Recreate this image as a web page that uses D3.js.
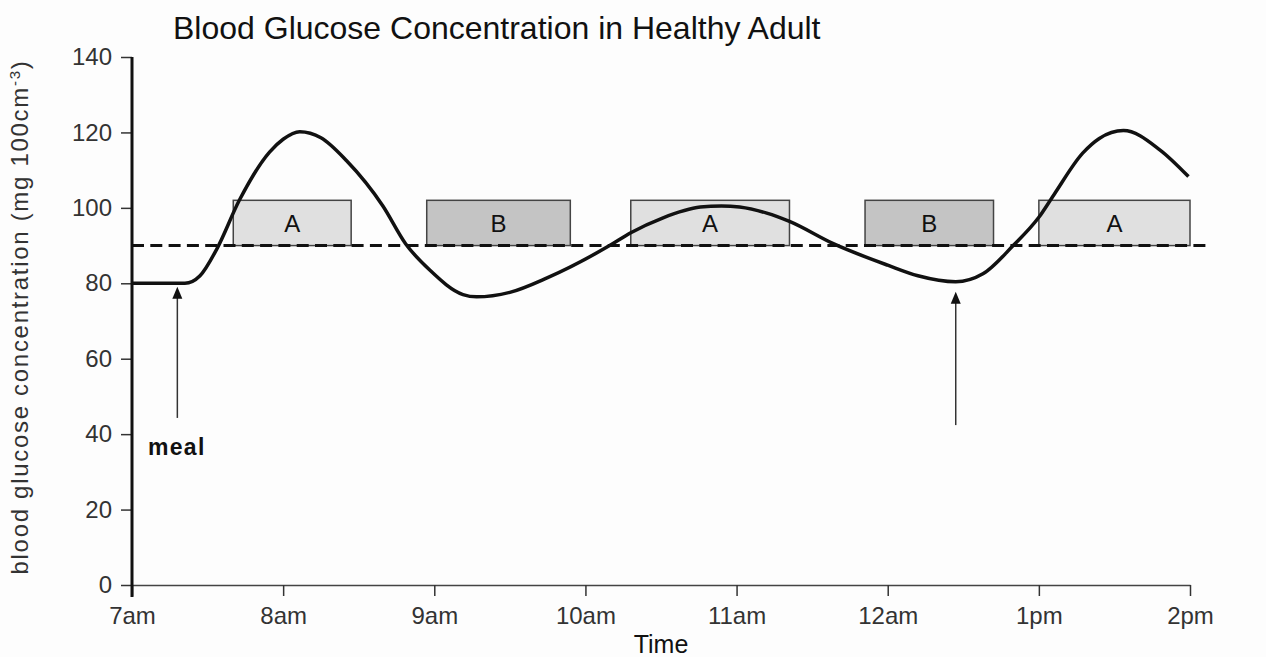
<!DOCTYPE html>
<html>
<head>
<meta charset="utf-8">
<script src="https://cdn.jsdelivr.net/npm/d3@7"></script>
<style>
  body { margin: 0; background: #fdfdfd; }
  svg { display: block; }
  text { font-family: "Liberation Sans", Arial, sans-serif; }
</style>
</head>
<body>
<svg id="chart"></svg>
<script>
// time in hours (7 = 7am, 14 = 2pm) and glucose
const hours   = [7.0, 7.35, 7.45, 7.56, 7.71, 7.91, 8.0, 8.11, 8.25, 8.42, 8.66, 8.81, 8.97, 9.19, 9.28, 9.5, 9.75, 10.16, 10.3, 10.51, 10.76, 10.9, 11.02, 11.2, 11.35, 11.64, 12.0, 12.2, 12.45, 12.63, 12.83, 13.0, 13.1, 13.29, 13.4, 13.56, 13.8, 13.99];
const glucose = [80, 80, 82, 89, 102, 114.8, 118.2, 120.2, 118.6, 112.5, 100.5, 90.5, 83.5, 77, 76.4, 77.6, 81.5, 90, 93.4, 97.3, 100.2, 100.5, 100.2, 98.6, 96.4, 90.5, 84.8, 82, 80.4, 82.5, 90, 97.5, 103.5, 114.5, 118.4, 120.5, 115.4, 108.3];

const xTicks = [7, 8, 9, 10, 11, 12, 13, 14];
const xTickLabels = ['7am', '8am', '9am', '10am', '11am', '12am', '1pm', '2pm'];
const yTicks = [0, 20, 40, 60, 80, 100, 120, 140];

const threshold = 90;
const boxStart  = [7.67, 8.95, 10.3, 11.85, 13.0];
const boxEnd    = [8.45, 9.9, 11.35, 12.7, 14.0];
const boxLabels = ['A', 'B', 'A', 'B', 'A'];
const boxTop = 102;

const arrowAt   = [7.3, 12.45];
const arrowFrom = [44.3, 42.4];
const arrowTo   = [79.6, 78.3];

const width = 1266, height = 657;
const margin = { top: 57, right: 76, bottom: 72, left: 132 };
const font = '"Liberation Sans", Arial, sans-serif';

const svg = d3.select('#chart').attr('width', width).attr('height', height);
svg.append('rect').attr('width', width).attr('height', height).attr('fill', '#fdfdfd');

const x = d3.scaleLinear().domain([7, 14]).range([margin.left, width - margin.right]);
const y = d3.scaleLinear().domain([0, 140]).range([height - margin.bottom, margin.top]);

// boxes A / B
const boxes = svg.append('g');
boxStart.forEach((s, i) => {
  boxes.append('rect')
    .attr('x', x(s)).attr('y', y(boxTop))
    .attr('width', x(boxEnd[i]) - x(s)).attr('height', y(threshold) - y(boxTop))
    .attr('fill', boxLabels[i] === 'A' ? '#e0e0e0' : '#c4c4c4')
    .attr('stroke', '#444').attr('stroke-width', 1.5);
  boxes.append('text')
    .attr('x', (x(s) + x(boxEnd[i])) / 2).attr('y', (y(threshold) + y(boxTop)) / 2 + 9)
    .attr('text-anchor', 'middle').attr('font-size', 24).attr('fill', '#111')
    .text(boxLabels[i]);
});

// dashed normal level
svg.append('line')
  .attr('x1', x(7)).attr('x2', x(14) + 20)
  .attr('y1', y(threshold)).attr('y2', y(threshold))
  .attr('stroke', '#111').attr('stroke-width', 3)
  .attr('stroke-dasharray', '12,6.3');

// axes
const yAxis = svg.append('g').attr('transform', `translate(${margin.left},0)`)
  .call(d3.axisLeft(y).tickValues(yTicks).tickSize(11).tickPadding(9).tickSizeOuter(0));
yAxis.select('.domain').remove();
yAxis.selectAll('.tick line').attr('stroke', '#333').attr('stroke-width', 1.5);
yAxis.selectAll('.tick text').attr('font-size', 24).attr('fill', '#333').attr('font-family', font);

const xAxis = svg.append('g').attr('transform', `translate(0,${y(0)})`)
  .call(d3.axisBottom(x).tickValues(xTicks).tickFormat((d, i) => xTickLabels[i]).tickSize(11).tickPadding(11).tickSizeOuter(0));
xAxis.select('.domain').attr('stroke', '#444').attr('stroke-width', 1.5);
xAxis.selectAll('.tick line').attr('stroke', '#333').attr('stroke-width', 1.5);
xAxis.selectAll('.tick text').attr('font-size', 24).attr('fill', '#333').attr('font-family', font);

svg.append('line')
  .attr('x1', x(7)).attr('x2', x(7))
  .attr('y1', y(140)).attr('y2', y(0) + 12)
  .attr('stroke', '#111').attr('stroke-width', 3);

// glucose curve
const line = d3.line().x((d, i) => x(hours[i])).y(d => y(d)).curve(d3.curveMonotoneX);
svg.append('path').datum(glucose)
  .attr('d', line)
  .attr('fill', 'none').attr('stroke', '#111').attr('stroke-width', 3.5)
  .attr('stroke-linejoin', 'round');

// arrows
arrowAt.forEach((h, i) => {
  const ax = x(h), tip = y(arrowTo[i]);
  svg.append('line')
    .attr('x1', ax).attr('x2', ax)
    .attr('y1', y(arrowFrom[i])).attr('y2', tip + 8)
    .attr('stroke', '#333').attr('stroke-width', 1.5);
  svg.append('path')
    .attr('d', `M${ax},${tip + 2} L${ax - 5},${tip + 14} L${ax + 5},${tip + 14} Z`)
    .attr('fill', '#111');
});

svg.append('text')
  .attr('x', 148).attr('y', 455)
  .attr('font-size', 23).attr('font-weight', 'bold').attr('letter-spacing', 1.3).attr('fill', '#111')
  .text('meal');

// titles
svg.append('text')
  .attr('x', 173).attr('y', 39)
  .attr('font-size', 32).attr('fill', '#111')
  .text('Blood Glucose Concentration in Healthy Adult');

svg.append('text')
  .attr('x', (x(7) + x(14)) / 2).attr('y', 653)
  .attr('text-anchor', 'middle').attr('font-size', 25).attr('fill', '#111')
  .text('Time');

svg.append('text')
  .attr('transform', `translate(28,${(y(0) + y(140)) / 2 - 4}) rotate(-90)`)
  .attr('text-anchor', 'middle').attr('font-size', 24).attr('letter-spacing', 1.7).attr('fill', '#333')
  .html('blood glucose concentration (mg 100cm<tspan dy="-8" font-size="15">-3</tspan><tspan dy="8">)</tspan>');
</script>
</body>
</html>
